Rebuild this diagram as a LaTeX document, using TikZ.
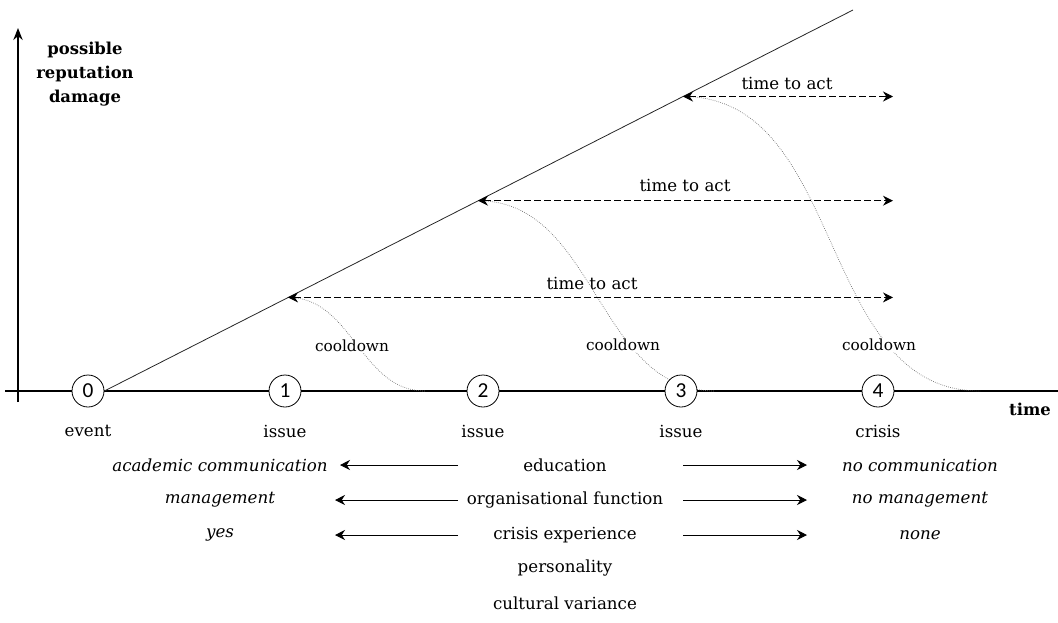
\documentclass[tikz,border=0pt]{standalone}
\usepackage{fontspec}
\setmainfont{DejaVu Serif}
\newfontfamily\digitfont{Carlito}
\usetikzlibrary{arrows.meta}

\begin{document}
\begin{tikzpicture}[x=0.75pt,y=-0.75pt,
    stage/.style={shape=circle,draw,fill=white,line width=0.6pt,minimum size=24pt,inner sep=0pt,font=\digitfont\fontsize{16}{16}\selectfont},
    caption/.style={font=\fontsize{12.5}{14}\selectfont},
    factor/.style={font=\fontsize{12.5}{14}\selectfont\itshape},
    axislabel/.style={font=\fontsize{12.3}{18}\selectfont\bfseries,align=center},
    cool/.style={font=\fontsize{11.5}{13}\selectfont,fill=white,inner sep=1pt},
    act/.style={dash pattern=on 5pt off 2.5pt,line width=0.7pt,{Stealth[length=7.5pt,width=7.5pt]}-{Stealth[length=7.5pt,width=7.5pt]}},
    fade/.style={gray!80!black,densely dotted,line width=0.5pt},
    tendency/.style={line width=0.7pt,-{Stealth[length=7.5pt,width=7.5pt]}}]
    \useasboundingbox (0,0) rectangle (1058,622);

    \coordinate (xa) at (5,391);
    \coordinate (xb) at (1058,391);
    \coordinate (ya) at (18,402);
    \coordinate (yb) at (18,28);
    \coordinate (top) at (853,10);
    \coordinate (p1) at (288,297.4);
    \coordinate (p2) at (478,200.7);
    \coordinate (p3) at (683,96.5);
    \coordinate (e1) at (893,297.4);
    \coordinate (e2) at (893,200.7);
    \coordinate (e3) at (893,96.5);
    \coordinate (f1) at (425,391);
    \coordinate (f2) at (715,391);
    \coordinate (f3) at (980,391);

    \draw[line width=1.2pt] (xa) -- (xb);
    \draw[line width=1.2pt,-{Stealth[length=9pt,width=7pt]}] (ya) -- (yb);

    \draw[fade] (p1) to[out=0,in=180] (f1);
    \draw[fade] (p2) to[out=0,in=180] (f2);
    \draw[fade] (p3) to[out=0,in=180] (f3);

    \node[stage] (s0) at (88,391) {0};
    \node[stage] (s1) at (285,391) {1};
    \node[stage] (s2) at (483,391) {2};
    \node[stage] (s3) at (681,391) {3};
    \node[stage] (s4) at (878,391) {4};

    \draw[line width=0.6pt,black!85] (s0.east) -- (top);

    \draw[act] (p1) -- (e1);
    \draw[act] (p2) -- (e2);
    \draw[act] (p3) -- (e3);
    \node[caption] (t1) at (592,283) {time to act};
    \node[caption] (t2) at (685,185) {time to act};
    \node[caption] (t3) at (787,83) {time to act};

    \node[cool] (c1) at (352,346) {cooldown};
    \node[cool] (c2) at (623,345) {cooldown};
    \node[cool] (c3) at (879,345) {cooldown};

    \node[axislabel] (ylab) at (85,74) {possible\\reputation\\damage};
    \node[axislabel] (xlab) at (1030,409) {time};

    \node[caption] (n0) at (88,431) {event};
    \node[caption] (n1) at (285,431) {issue};
    \node[caption] (n2) at (483,431) {issue};
    \node[caption] (n3) at (681,431) {issue};
    \node[caption] (n4) at (878,431) {crisis};

    \node[caption] (edu) at (565,465) {education};
    \node[caption] (org) at (565,500) {organisational function};
    \node[caption] (exp) at (565,535) {crisis experience};
    \node[caption] (per) at (565,568) {personality};
    \node[caption] (cul) at (565,603) {cultural variance};

    \node[factor] (edul) at (220,465) {academic communication};
    \node[factor] (orgl) at (220,500) {management};
    \node[factor] (expl) at (220,535) {yes};
    \node[factor] (edur) at (920,465) {no communication};
    \node[factor] (orgr) at (920,500) {no management};
    \node[factor] (expr) at (920,535) {none};

    \coordinate (la1) at (458,465);
    \coordinate (lb1) at (340,465);
    \coordinate (la2) at (458,500);
    \coordinate (lb2) at (335,500);
    \coordinate (la3) at (458,535);
    \coordinate (lb3) at (335,535);
    \coordinate (ra1) at (683,465);
    \coordinate (rb1) at (807,465);
    \coordinate (ra2) at (683,500);
    \coordinate (rb2) at (807,500);
    \coordinate (ra3) at (683,535);
    \coordinate (rb3) at (807,535);
    \draw[tendency] (la1) -- (lb1);
    \draw[tendency] (la2) -- (lb2);
    \draw[tendency] (la3) -- (lb3);
    \draw[tendency] (ra1) -- (rb1);
    \draw[tendency] (ra2) -- (rb2);
    \draw[tendency] (ra3) -- (rb3);
\end{tikzpicture}
\end{document}
